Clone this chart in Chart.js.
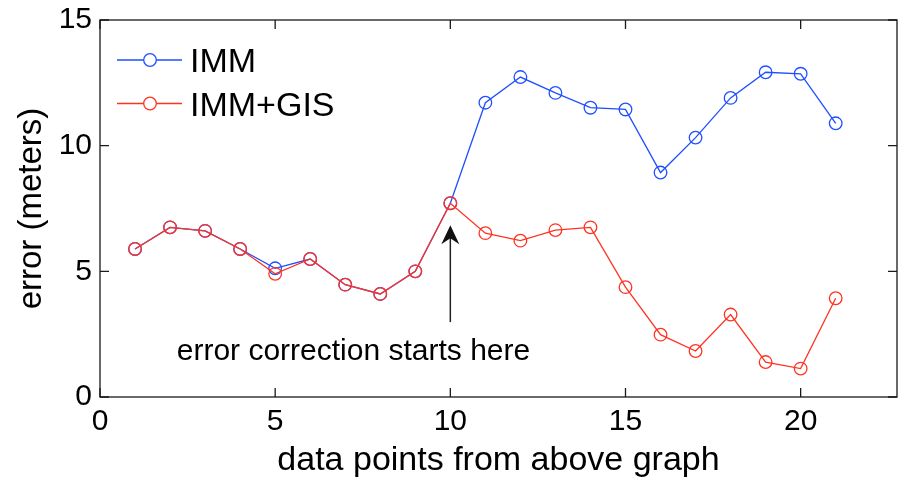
<!DOCTYPE html>
<html>
<head>
<meta charset="utf-8">
<script src="https://cdn.jsdelivr.net/npm/chart.js@4/dist/chart.umd.min.js"></script>
<style>
  html, body { margin: 0; padding: 0; background: #fff; }
  #wrap { width: 898px; height: 481px; }
</style>
</head>
<body>
<div id="wrap"><canvas id="c" width="898" height="481"></canvas></div>
<script>
// data
var pointIndex = [1, 2, 3, 4, 5, 6, 7, 8, 9, 10, 11, 12, 13, 14, 15, 16, 17, 18, 19, 20, 21];
var immError = [5.89, 6.75, 6.61, 5.89, 5.12, 5.49, 4.47, 4.1, 5.0, 7.71, 11.71, 12.73, 12.1, 11.51, 11.44, 8.93, 10.32, 11.9, 12.92, 12.86, 10.89];
var immGisError = [5.89, 6.75, 6.61, 5.89, 4.9, 5.49, 4.47, 4.1, 5.0, 7.71, 6.52, 6.22, 6.64, 6.75, 4.37, 2.48, 1.83, 3.28, 1.39, 1.13, 3.93];
var xTicks = [0, 5, 10, 15, 20];
var yTicks = [0, 5, 10, 15];
var seriesNames = ["IMM", "IMM+GIS"];
var noteText = "error correction starts here";

var FONT = "'Liberation Sans', Arial, sans-serif";
var BLUE = "#1f4fff";
var RED = "#ff3322";

function toPoints(xs, ys) {
  var out = [];
  for (var i = 0; i < xs.length; i++) out.push({ x: xs[i], y: ys[i] });
  return out;
}

// box, inward ticks, arrow note and legend (matlab style)
var matlabDecor = {
  id: "matlabDecor",
  afterDraw: function(chart) {
    var ctx = chart.ctx, a = chart.chartArea;
    var xs = chart.scales.x, ys = chart.scales.y;
    var tl = 9;
    ctx.save();
    ctx.strokeStyle = "#1a1a1a";
    ctx.lineWidth = 1.3;
    ctx.strokeRect(a.left, a.top, a.right - a.left, a.bottom - a.top);
    ctx.beginPath();
    xTicks.forEach(function(v) {
      var px = xs.getPixelForValue(v);
      ctx.moveTo(px, a.bottom); ctx.lineTo(px, a.bottom - tl);
      ctx.moveTo(px, a.top); ctx.lineTo(px, a.top + tl);
    });
    yTicks.forEach(function(v) {
      var py = ys.getPixelForValue(v);
      ctx.moveTo(a.left, py); ctx.lineTo(a.left + tl, py);
      ctx.moveTo(a.right, py); ctx.lineTo(a.right - tl, py);
    });
    ctx.stroke();

    // arrow at point 10
    var ax = xs.getPixelForValue(10);
    var y0 = ys.getPixelForValue(2.98), y1 = ys.getPixelForValue(6.83);
    ctx.strokeStyle = "#222";
    ctx.lineWidth = 1.5;
    ctx.beginPath();
    ctx.moveTo(ax, y0); ctx.lineTo(ax, y1 + 10);
    ctx.stroke();
    ctx.fillStyle = "#111";
    ctx.beginPath();
    ctx.moveTo(ax, y1);
    ctx.lineTo(ax - 9, y1 + 19);
    ctx.lineTo(ax, y1 + 13);
    ctx.lineTo(ax + 9, y1 + 19);
    ctx.closePath();
    ctx.fill();

    ctx.fillStyle = "#000";
    ctx.font = "30px " + FONT;
    ctx.textAlign = "left";
    ctx.textBaseline = "alphabetic";
    ctx.fillText(noteText, xs.getPixelForValue(2.19), ys.getPixelForValue(1.48));

    // legend
    chart.data.datasets.forEach(function(ds, i) {
      var ly = 60 + i * 43.5;
      ctx.strokeStyle = ds.borderColor;
      ctx.lineWidth = 1.3;
      ctx.beginPath();
      ctx.moveTo(117, ly); ctx.lineTo(182, ly);
      ctx.stroke();
      ctx.beginPath();
      ctx.arc(150, ly, 6.3, 0, Math.PI * 2);
      ctx.fillStyle = "#fff";
      ctx.fill();
      ctx.stroke();
      ctx.fillStyle = "#000";
      ctx.font = "34px " + FONT;
      ctx.textBaseline = "alphabetic";
      ctx.fillText(ds.label, 190, ly + 12.2);
    });
    ctx.restore();
  }
};

new Chart(document.getElementById("c"), {
  type: "line",
  data: {
    datasets: [
      {
        label: seriesNames[0],
        data: toPoints(pointIndex, immError),
        borderColor: BLUE,
        pointBorderColor: BLUE,
        order: 2
      },
      {
        label: seriesNames[1],
        data: toPoints(pointIndex, immGisError),
        borderColor: RED,
        pointBorderColor: RED,
        order: 1
      }
    ]
  },
  options: {
    responsive: false,
    animation: false,
    devicePixelRatio: 1,
    layout: { autoPadding: false, padding: { top: 20, right: 1, left: 0, bottom: 0 } },
    elements: {
      line: { borderWidth: 1.3, tension: 0, fill: false },
      point: { radius: 6.3, borderWidth: 1.3, backgroundColor: "rgba(0,0,0,0)", pointStyle: "circle" }
    },
    plugins: {
      legend: { display: false },
      tooltip: { enabled: false }
    },
    scales: {
      x: {
        type: "linear",
        min: 0,
        max: 22.75,
        afterBuildTicks: function(s) { s.ticks = xTicks.map(function(v) { return { value: v }; }); },
        afterFit: function(s) { s.height = 84; s.paddingLeft = 0; s.paddingRight = 0; },
        grid: { display: false, drawTicks: false },
        border: { display: false },
        ticks: { color: "#000", font: { family: FONT, size: 30 }, padding: 7, maxRotation: 0 },
        title: { display: true, text: "data points from above graph", color: "#000", font: { family: FONT, size: 34 }, padding: { top: 0, bottom: 0 } }
      },
      y: {
        type: "linear",
        min: 0,
        max: 15,
        afterBuildTicks: function(s) { s.ticks = yTicks.map(function(v) { return { value: v }; }); },
        afterFit: function(s) { s.width = 100; s.paddingTop = 0; s.paddingBottom = 0; },
        grid: { display: false, drawTicks: false },
        border: { display: false },
        ticks: { color: "#000", font: { family: FONT, size: 30 }, padding: 8 },
        title: { display: true, text: "error (meters)", color: "#000", font: { family: FONT, size: 33 }, padding: { top: 12, bottom: 0 } }
      }
    }
  },
  plugins: [matlabDecor]
});
</script>
</body>
</html>
